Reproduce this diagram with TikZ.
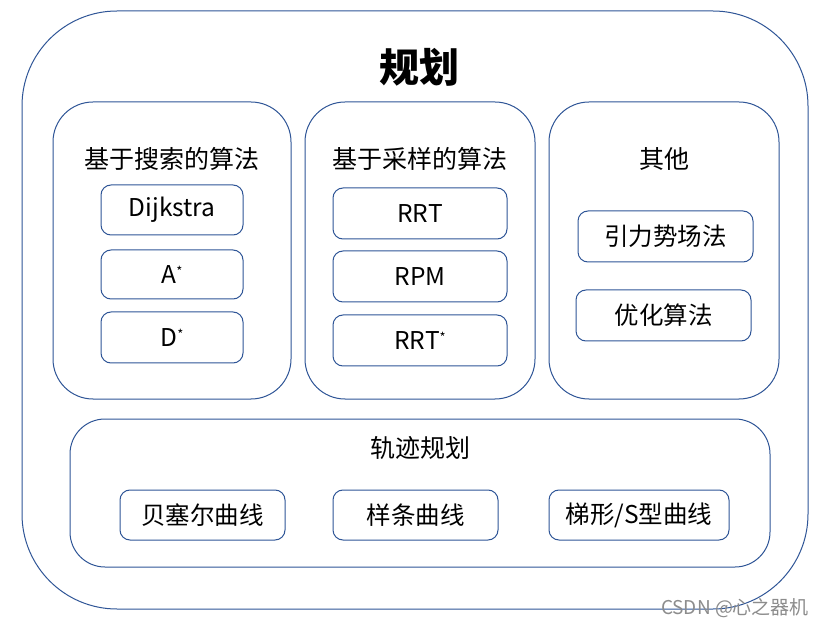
\documentclass[tikz,border=0pt]{standalone}
\usepackage{fontspec}
\setmainfont{Noto Sans CJK SC}
\definecolor{frame}{HTML}{2F5597}
\newcommand{\sstar}{\raisebox{0.55ex}{\fontsize{13}{13}\selectfont *}}
\begin{document}
\begin{tikzpicture}[x=1pt,y=-1pt,
  box/.style={draw=frame,line width=1pt,inner sep=0pt},
  outerbox/.style={box,rounded corners=95pt},
  groupbox/.style={box,rounded corners=40pt},
  trackbox/.style={box,rounded corners=35pt},
  itembox/.style={box,rounded corners=10pt,font=\fontsize{24.5}{26}\selectfont},
  head/.style={font=\fontsize{25}{27}\selectfont,inner sep=0pt},
  title/.style={font=\fontsize{40}{42}\selectfont\bfseries,inner sep=0pt}]
\useasboundingbox (0,0) rectangle (825,628);
\fill[white] (0,0) rectangle (825,628);
% outer
\node[outerbox,minimum width=786pt,minimum height=598pt] (outer) at (415,310) {};
\node[title] (t) at (419,67) {规划};
% groups
\node[groupbox,minimum width=238pt,minimum height=297pt] (g1) at (172,250.5) {};
\node[groupbox,minimum width=230pt,minimum height=297pt] (g2) at (420,250.5) {};
\node[groupbox,minimum width=230pt,minimum height=297pt] (g3) at (664,250.5) {};
\node[head] (h1) at (172,159) {基于搜索的算法};
\node[head] (h2) at (420,159) {基于采样的算法};
\node[head] (h3) at (664,159) {其他};
% items group1
\node[itembox,minimum width=142pt,minimum height=50pt] (dij) at (172,210) {Dijkstra};
\node[itembox,minimum width=142pt,minimum height=49pt] (astar) at (172,274.5) {A\sstar};
\node[itembox,minimum width=142pt,minimum height=51pt] (dstar) at (172,337.5) {D\sstar};
% group2
\node[itembox,minimum width=174pt,minimum height=51pt] (rrt) at (420,213.5) {RRT};
\node[itembox,minimum width=174pt,minimum height=51pt] (rpm) at (420,276.5) {RPM};
\node[itembox,minimum width=174pt,minimum height=51pt] (rrts) at (420,340.5) {RRT\sstar};
% group3
\node[itembox,minimum width=175pt,minimum height=51pt] (apf) at (665.5,236.5) {引力势场法};
\node[itembox,minimum width=175pt,minimum height=51pt] (opt) at (663.5,315.5) {优化算法};
% trajectory
\node[trackbox,minimum width=700pt,minimum height=148pt] (traj) at (420,493) {};
\node[head] (h4) at (420,448) {轨迹规划};
\node[itembox,minimum width=165pt,minimum height=50pt] (bez) at (202.5,515) {贝塞尔曲线};
\node[itembox,minimum width=165pt,minimum height=50pt] (spl) at (415.5,515) {样条曲线};
\node[itembox,minimum width=180pt,minimum height=50pt] (trap) at (639,515) {梯形/S型曲线};
% watermark
\node[font=\fontsize{19}{21}\selectfont,text=black!45,inner sep=0pt] (wm) at (735,608) {CSDN @心之器机};
\end{tikzpicture}
\end{document}
